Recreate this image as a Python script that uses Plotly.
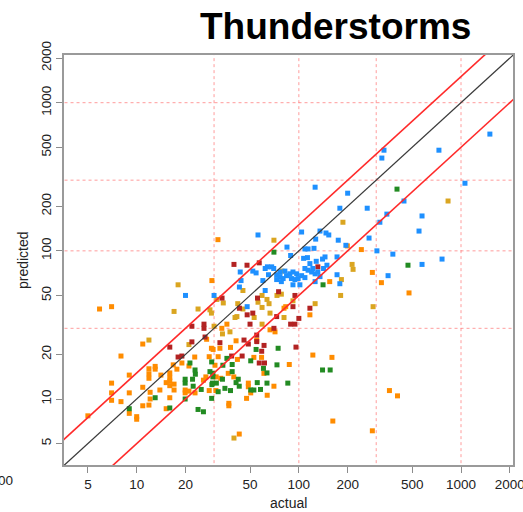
import plotly.graph_objects as go

# Observed (actual) vs modelled (predicted) thunderstorm counts, by group
blue_actual = [1507, 731, 335, 325, 1058, 126, 200, 445, 179, 264, 349, 575, 316, 104, 135,
               147, 153, 551, 127, 271, 175, 56, 84.5, 195, 303, 109, 114, 124, 89, 380,
               764, 575, 355, 172, 179, 126, 44, 43, 62, 60, 30, 20, 48, 52, 54.5,
               62, 64, 68, 70, 65, 172, 43.5,
               107, 113, 117, 128, 140, 145, 149, 109, 114, 120, 126, 131, 142, 104,
               109, 135, 122, 73, 76.5, 80, 84, 88, 92, 97, 76.5, 82, 94.6, 99, 73,
               90, 78, 92, 101.5]
blue_pred = [614, 478, 478, 423, 286, 269, 245, 217, 194, 194, 177, 172, 156, 134, 136,
             132, 128, 136, 120, 122, 118, 128, 106, 109, 100, 103, 103, 104, 93, 95,
             88, 81, 68, 69, 60, 62, 63, 57, 54, 63, 50, 50, 42, 73, 71,
             76, 78, 78, 76, 69, 91, 72,
             89, 90, 82, 85, 88, 91, 80, 76, 74, 72, 70, 72, 76, 68,
             66, 67, 76, 69, 67, 65, 68, 70, 72, 70, 72, 73, 64, 65, 64,
             65, 62, 59, 59]

orange_actual = [31.7, 29.1, 5.9, 7.0, 10.9, 8.0, 9.0, 7.0, 7.0, 7.0, 8.0, 9.0, 10.9, 11.9,
                 11.9, 11.9, 13.0, 13.0, 14.1, 12.1, 12.1, 11.9, 10.9, 9.0, 10.0, 10.0,
                 13.9, 15.2, 16.0, 16.0, 16.0, 16.0, 17.0, 17.0, 16.8, 17.7, 16.0, 15.2,
                 5.0, 19.0, 19.9, 19.9, 21.0, 22.8, 21.0,
                 27.0, 28.9, 29.6, 28.0, 30.4, 37.9, 41.0, 39.7, 36.7, 33.0, 30.9, 26.7,
                 25.8, 28.0, 30.8, 22.9, 37, 37, 42.9, 48.8, 48.8, 50.5, 47.6, 63.8,
                 70.2, 87.3, 52.8, 58.9, 41.8, 55.0, 60.9, 66.4, 71.3, 122, 160, 362,
                 406, 162, 284, 284, 323, 478, 155, 117, 199, 243, 83, 81, 36, 33.5,
                 31.8, 32.6]
orange_pred = [119, 63, 40.5, 42, 23.5, 19.5, 14.5, 12.8, 11.0, 9.8, 9.6, 11.0, 12.0, 16.0,
               14.8, 13.8, 16.6, 15.9, 14.5, 11.1, 10.0, 9.1, 9.0, 8.0, 7.6, 7.3,
               11.5, 12.9, 15.0, 14.0, 13.2, 12.3, 12.6, 11.5, 17.0, 15.9, 10.2, 8.6,
               7.7, 17.5, 11.5, 11.0, 11.3, 19.2, 16.7,
               25.3, 22.0, 21.6, 19.3, 16.9, 22.3, 24.7, 14.1, 14.9, 13.8, 14.1, 14.1,
               13.4, 11.4, 11.4, 11.0, 9.35, 9.0, 5.8, 12.8, 12.1, 11.0, 10.1, 10.6,
               12.2, 17.1, 19.1, 19.1, 18.5, 25.0, 14.9, 29.3, 28.4, 19.8, 19.1, 11.4,
               10.5, 7.1, 6.1, 71.5, 61, 52, 62, 37, 108, 102, 42, 41, 32, 30,
               19.3, 22]

gold_actual = [70.2, 187, 832, 213, 216, 183, 181, 287, 126, 18.0, 17.0, 11.9, 78.7, 45.2,
               31.2, 34.2, 73.3, 78, 59.3, 63.6, 56, 65.5, 92, 42, 59.3, 23.9, 28.3,
               45.2, 28.9, 66.4, 40.4, 41.5, 53, 81, 30, 59.3, 39.8, 33.8, 37.6, 21]
gold_pred = [118, 156, 217, 81, 75, 64, 50, 42, 44, 59, 39, 25, 73, 54,
             47, 44.5, 50, 51, 50, 47, 45, 44, 46, 44, 41.5, 40.5, 40,
             40.5, 38, 38, 35.5, 36, 35.5, 35.5, 31, 32, 5.45, 27.5, 28.4, 23.3]

red_actual = [39.8, 47.9, 57, 33.6, 75, 55.6, 94.6, 92, 43, 52, 48, 73, 21.9, 26, 26, 50,
              94.6, 70.2, 100, 117, 89, 96, 61, 59, 16, 18, 19, 21.9, 26.4, 32.6, 131,
              45.9, 48.8, 55, 55, 57, 61.4, 44.7, 38.5]
red_pred = [81, 80, 83, 48, 53, 48, 50, 42, 41, 38, 37, 36, 31, 32, 30, 32,
            32, 30, 35, 41, 32, 22.4, 23, 21, 22.4, 19.2, 19.5, 24.3, 26.2, 24, 78,
            25, 23.5, 24.4, 27, 17.5, 17.5, 19.5, 19.5]

green_actual = [403, 70.2, 471, 141, 74.5, 73.3, 140, 156, 85.5, 63.6, 63.6, 9.0, 16, 13,
                29, 36, 38.8, 34, 38.8, 28.3, 29.5, 29.5, 23, 22.1, 19.9, 19.9, 33.8,
                31, 29.3, 25, 22.3, 31.8, 35, 37.9, 41, 42.9, 42.3, 50.5, 52.8, 58,
                55.4, 60.5, 50.5, 54.5, 19.9, 23.9, 25.8, 29, 21.3, 22.9, 29.1]
green_pred = [261, 98, 80, 59, 22, 17, 15.7, 15.7, 12.8, 12.8, 15, 8.6, 8.7, 10.2,
              17.8, 18.8, 17.1, 16.9, 15.3, 15.3, 14.9, 14.1, 14.7, 13.6, 13.6, 12.8, 13.6,
              12.8, 12.8, 11.6, 12.2, 11.2, 11.8, 11.4, 12.9, 12.2, 13.6, 11.5, 11.5, 11.6,
              12.9, 16.1, 18.1, 21.6, 10, 8.5, 8.2, 10.1, 17.5, 15.7, 12.5]

tick_vals = [5, 10, 20, 50, 100, 200, 500, 1000, 2000]
tick_text = ["5", "10", "20", "50", "100", "200", "500", "1000", "2000"]
grid_vals = [30, 100, 300, 1000]
band_factors = [1.5, 0.5]

FONT = "Liberation Sans, Arial, sans-serif"
LINE_SPAN = [1, 10000]

fig = go.Figure()

# dotted reference grid
gx, gy = [], []
for v in grid_vals:
    gx += [v, v, None]
    gy += [LINE_SPAN[0], LINE_SPAN[1], None]
    gx += [LINE_SPAN[0], LINE_SPAN[1], None]
    gy += [v, v, None]
fig.add_trace(go.Scatter(x=gx, y=gy, mode="lines", hoverinfo="skip",
                         line=dict(color="rgba(255,90,90,0.6)", width=1, dash="dot")))

groups = [
    (orange_actual, orange_pred, "#FF8C00"),
    (gold_actual, gold_pred, "#DAA520"),
    (red_actual, red_pred, "#B22222"),
    (green_actual, green_pred, "#228B22"),
    (blue_actual, blue_pred, "#1E90FF"),
]
for xs, ys, col in groups:
    fig.add_trace(go.Scatter(x=xs, y=ys, mode="markers",
                             marker=dict(symbol="square", size=5, color=col,
                                         line=dict(width=0))))

# 1:1 line and the +/-50% band
fig.add_trace(go.Scatter(x=LINE_SPAN, y=LINE_SPAN, mode="lines", hoverinfo="skip",
                         line=dict(color="#3a3a3a", width=1.2)))
for f in band_factors:
    fig.add_trace(go.Scatter(x=LINE_SPAN, y=[v * f for v in LINE_SPAN], mode="lines",
                             hoverinfo="skip", line=dict(color="#FF2A2A", width=1.6)))

axis_common = dict(
    type="log", tickmode="array", tickvals=tick_vals, ticktext=tick_text,
    ticks="outside", ticklen=6, tickwidth=1, tickcolor="#8c8c8c",
    showgrid=False, zeroline=False, showline=True, mirror=True,
    linecolor="#9a9a9a", linewidth=1.5, automargin=False,
    ticklabeloverflow="allow",
    tickfont=dict(family=FONT, size=13.5, color="#222222"),
)

fig.update_layout(
    width=523, height=512,
    margin=dict(l=64, r=10, t=55, b=47, autoexpand=False),
    paper_bgcolor="white", plot_bgcolor="white",
    showlegend=False,
    xaxis=dict(range=[0.5517, 3.3207], **axis_common),
    yaxis=dict(range=[0.5545, 3.322], tickangle=-90, **axis_common),
    annotations=[
        dict(text="<b>Thunderstorms</b>", xref="paper", yref="paper",
             x=0.6036, y=1.07, xanchor="center", yanchor="middle", showarrow=False,
             font=dict(family=FONT, size=37, color="black")),
        dict(text="actual", xref="paper", yref="paper", x=0.501, y=-0.0927,
             xanchor="center", yanchor="middle", showarrow=False,
             font=dict(family=FONT, size=14, color="#222222")),
        dict(text="predicted", xref="paper", yref="paper", x=-0.0913, y=0.5,
             xanchor="center", yanchor="middle", textangle=-90, showarrow=False,
             font=dict(family=FONT, size=14, color="#222222")),
        dict(text="2000", xref="paper", yref="paper", x=-0.109, y=-0.039,
             xanchor="right", yanchor="middle", showarrow=False,
             font=dict(family=FONT, size=13.5, color="#222222")),
    ],
)

fig.write_html("out.html")
